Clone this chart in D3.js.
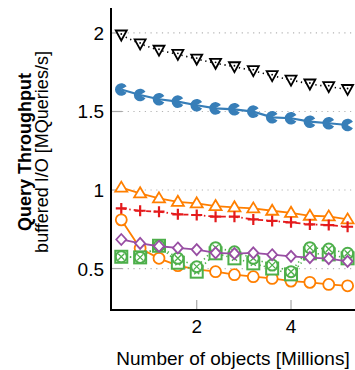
<!DOCTYPE html>
<html><head><meta charset="utf-8">
<script src="https://cdn.jsdelivr.net/npm/d3@7/dist/d3.min.js"></script>
<style>body{margin:0;background:#fff} text{font-family:"Liberation Sans",Arial,Helvetica,sans-serif;fill:#000}</style>
</head><body><svg id="c" width="355" height="370"></svg>
<script>
// ---- data ----
const xValues = [0.4, 0.8, 1.2, 1.6, 2.0, 2.4, 2.8, 3.2, 3.6, 4.0, 4.4, 4.8, 5.2];
const blackTriangles = [1.987, 1.93, 1.89, 1.864, 1.834, 1.807, 1.785, 1.76, 1.728, 1.70, 1.675, 1.658, 1.64];
const blueDots = [1.64, 1.605, 1.578, 1.563, 1.54, 1.52, 1.514, 1.499, 1.463, 1.457, 1.435, 1.425, 1.414];
const orangeTriangles = [1.015, 0.979, 0.947, 0.925, 0.915, 0.898, 0.89, 0.883, 0.868, 0.855, 0.836, 0.832, 0.813];
const redPlus = [0.883, 0.868, 0.862, 0.845, 0.841, 0.83, 0.83, 0.813, 0.803, 0.794, 0.781, 0.777, 0.766];
const orangeCircles = [0.81, 0.629, 0.565, 0.518, 0.495, 0.48, 0.461, 0.448, 0.437, 0.42, 0.412, 0.399, 0.39];
const greenSquares = [0.575, 0.571, 0.645, 0.537, 0.48, 0.597, 0.565, 0.533, 0.50, 0.463, 0.597, 0.59, 0.565];
const greenCircles = [0.575, 0.571, 0.645, 0.565, 0.512, 0.633, 0.607, 0.565, 0.522, 0.48, 0.633, 0.624, 0.597];
const purpleDiamonds = [0.685, 0.66, 0.642, 0.631, 0.621, 0.6, 0.595, 0.6, 0.588, 0.578, 0.569, 0.563, 0.546];
const yTicks = [0.5, 1, 1.5, 2];
const yTickLabels = ["0.5", "1", "1.5", "2"];
const xTicks = [2, 4];
const xTickLabels = ["2", "4"];

// ---- layout ----
const svg = d3.select("#c");
const pLeft = 111, pRight = 355, pTop = 8, pBottom = 310;
const x = d3.scaleLinear().domain([0.182, 5.357]).range([pLeft, pRight]);
const y = d3.scaleLinear().domain([0.236, 2.159]).range([pBottom, pTop]);

const grid = svg.append("g");
yTicks.forEach(v => {
  grid.append("line").attr("x1", pLeft).attr("x2", pLeft + 11).attr("y1", y(v)).attr("y2", y(v))
    .attr("stroke", "#a8a8a8").attr("stroke-width", 1.2);
  grid.append("line").attr("x1", pLeft + 11).attr("x2", pRight).attr("y1", y(v)).attr("y2", y(v))
    .attr("stroke", "#b4b4b4").attr("stroke-width", 1.2).attr("stroke-dasharray", "1.2,4.5");
});
xTicks.forEach(v => {
  grid.append("line").attr("x1", x(v)).attr("x2", x(v)).attr("y1", pBottom - 10).attr("y2", pBottom)
    .attr("stroke", "#a8a8a8").attr("stroke-width", 1.2);
});

// tick labels
yTicks.forEach((v, i) => {
  svg.append("text").attr("x", pLeft - 7).attr("y", y(v) + 7).attr("text-anchor", "end")
    .attr("font-size", 19).text(yTickLabels[i]);
});
xTicks.forEach((v, i) => {
  svg.append("text").attr("x", x(v)).attr("y", 333).attr("text-anchor", "middle")
    .attr("font-size", 19).text(xTickLabels[i]);
});

// titles
svg.append("text").attr("x", 233).attr("y", 365).attr("text-anchor", "middle")
  .attr("font-size", 19).text("Number of objects [Millions]");
svg.append("text").attr("transform", "translate(31,152) rotate(-90)").attr("text-anchor", "middle")
  .attr("font-size", 18).attr("font-weight", "bold").text("Query Throughput");
svg.append("text").attr("transform", "translate(48,152) rotate(-90)").attr("text-anchor", "middle")
  .attr("font-size", 18).text("buffered I/O [MQueries/s]");

// ---- series ----
const C = {black: "#000", blue: "#377eb8", orange: "#ff7f00", red: "#e41a1c", green: "#4daf4a", purple: "#984ea3"};
const plot = svg.append("g");
function drawLine(vals, color, width, dash) {
  const line = d3.line().x((d, i) => x(xValues[i])).y(d => y(d));
  const p = plot.append("path").attr("d", line(vals)).attr("fill", "none")
    .attr("stroke", color).attr("stroke-width", width);
  if (dash) p.attr("stroke-dasharray", dash);
}
function markers(vals, fn) {
  vals.forEach((v, i) => fn(plot.append("g").attr("transform", `translate(${x(xValues[i])},${y(v)})`)));
}

// black triangles (down) dotted
drawLine(blackTriangles, C.black, 1.6, "1.3,3.6");
markers(blackTriangles, g => {
  g.append("path").attr("d", "M-5.5,-4.5L5.5,-4.5L0,5.5Z").attr("fill", "#fff").attr("stroke", "#000").attr("stroke-width", 1.8);
  g.append("circle").attr("r", 0.9).attr("cy", -1).attr("fill", "#000");
});

// blue pacman solid
drawLine(blueDots, C.blue, 2.2);
markers(blueDots, g => {
  const arc = d3.arc().innerRadius(0).outerRadius(6.3).startAngle(Math.PI / 2 + 0.55).endAngle(Math.PI * 2.5 - 0.55);
  g.append("path").attr("d", arc()).attr("fill", C.blue);
});

// orange triangles up
drawLine(orangeTriangles, C.orange, 1.8);
markers(orangeTriangles, g => {
  g.append("path").attr("d", "M0,-6L6,4L-6,4Z").attr("fill", "#fff").attr("stroke", C.orange).attr("stroke-width", 1.8);
});

// red plus dash-dot
drawLine(redPlus, C.red, 1.8, "5,3,1.5,3");
markers(redPlus, g => {
  g.append("path").attr("d", "M-5.5,0H5.5M0,-5.5V5.5").attr("stroke", C.red).attr("stroke-width", 2.2);
});

// orange circles
drawLine(orangeCircles, C.orange, 1.8);
markers(orangeCircles, g => {
  g.append("circle").attr("r", 5.5).attr("fill", "#fff").attr("stroke", C.orange).attr("stroke-width", 1.8);
});

// green squares dotted
drawLine(greenSquares, C.green, 1.6, "1.3,3");
markers(greenSquares, g => {
  g.append("rect").attr("x", -6).attr("y", -6).attr("width", 12).attr("height", 12)
    .attr("fill", "#fff").attr("stroke", C.green).attr("stroke-width", 2);
  g.append("path").attr("d", "M-2.5,-2.5L2.5,2.5M-2.5,2.5L2.5,-2.5").attr("stroke", C.green).attr("stroke-width", 1.3);
});

// green circles dotted
drawLine(greenCircles, C.green, 1.6, "1.3,3");
markers(greenCircles, g => {
  g.append("circle").attr("r", 5.5).attr("fill", "#fff").attr("stroke", C.green).attr("stroke-width", 2);
  g.append("path").attr("d", "M-3,-3L3,3M-3,3L3,-3").attr("stroke", C.green).attr("stroke-width", 1.3);
});

// purple diamonds
drawLine(purpleDiamonds, C.purple, 1.8);
markers(purpleDiamonds, g => {
  g.append("path").attr("d", "M0,-5.5L5,0L0,5.5L-5,0Z").attr("fill", "#fff").attr("stroke", C.purple).attr("stroke-width", 1.8);
});

// axes lines
svg.append("line").attr("x1", pLeft).attr("x2", pLeft).attr("y1", pTop).attr("y2", pBottom + 1)
  .attr("stroke", "#000").attr("stroke-width", 2);
svg.append("line").attr("x1", pLeft - 1).attr("x2", pRight).attr("y1", pBottom).attr("y2", pBottom)
  .attr("stroke", "#000").attr("stroke-width", 2);
</script></body></html>
